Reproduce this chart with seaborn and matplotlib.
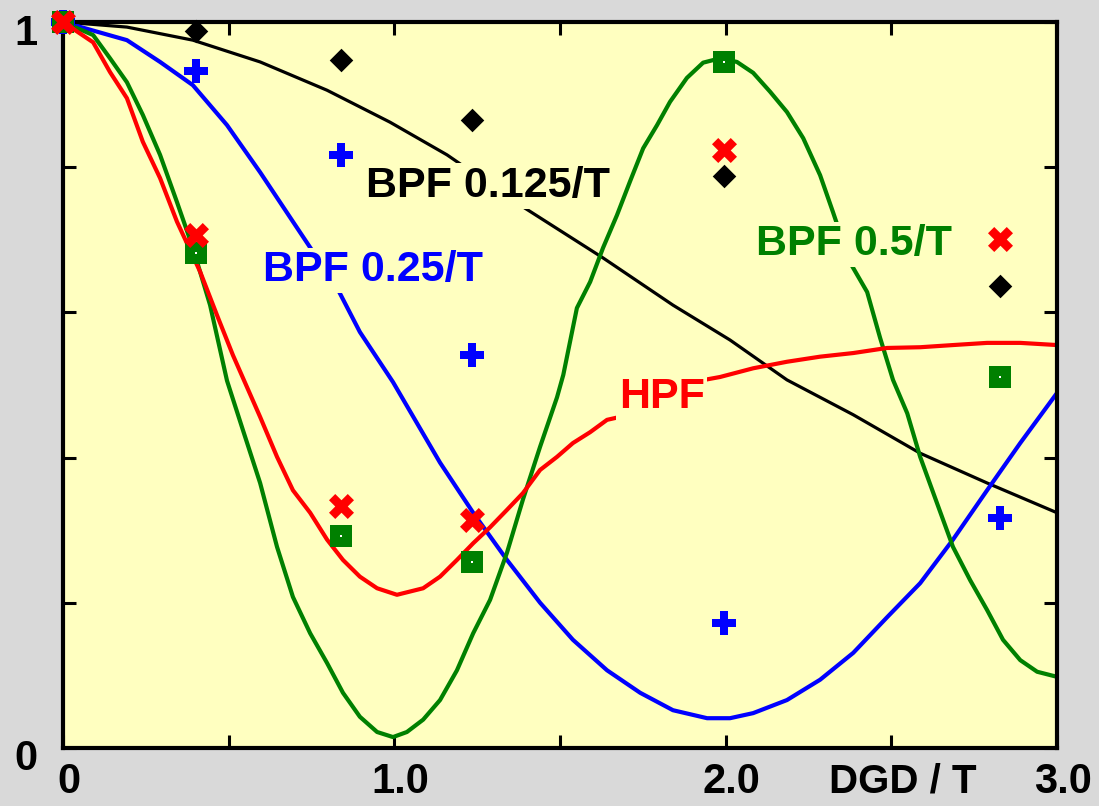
import numpy as np
import pandas as pd
import seaborn as sns
import matplotlib
matplotlib.use("Agg")
import matplotlib.pyplot as plt
from matplotlib.transforms import ScaledTranslation

# ---------------- data ----------------
bpf0125_x = [0, 0.193, 0.392, 0.595, 0.797, 0.987, 1.159, 1.379, 1.630, 1.841,
             2.013, 2.185, 2.385, 2.587, 2.789, 3.0]
bpf0125_y = [1.0, 0.993, 0.975, 0.945, 0.906, 0.862, 0.817, 0.748, 0.675, 0.610,
             0.562, 0.507, 0.459, 0.406, 0.365, 0.324]

bpf025_x = [0, 0.193, 0.293, 0.392, 0.495, 0.595, 0.694, 0.827, 0.896, 0.996,
            1.138, 1.238, 1.340, 1.440, 1.539, 1.642, 1.742, 1.841, 1.944, 2.013,
            2.083, 2.185, 2.285, 2.385, 2.487, 2.587, 2.686, 2.789, 2.889, 3.0]
bpf025_y = [1.0, 0.975, 0.945, 0.913, 0.858, 0.793, 0.725, 0.634, 0.573, 0.504,
            0.393, 0.324, 0.259, 0.200, 0.149, 0.107, 0.076, 0.052, 0.041, 0.041,
            0.048, 0.066, 0.094, 0.131, 0.180, 0.227, 0.287, 0.355, 0.420, 0.489]

hpf_x = [0, 0.091, 0.142, 0.193, 0.241, 0.293, 0.344, 0.414, 0.465, 0.513,
         0.595, 0.646, 0.694, 0.746, 0.797, 0.845, 0.896, 0.948, 1.008, 1.087,
         1.138, 1.189, 1.238, 1.289, 1.340, 1.388, 1.440, 1.491, 1.539, 1.591,
         1.642, 1.681, 1.800, 1.923, 1.983, 2.083, 2.185, 2.285, 2.385, 2.487,
         2.587, 2.686, 2.789, 2.889, 3.0]
hpf_y = [1.0, 0.972, 0.931, 0.895, 0.835, 0.785, 0.725, 0.656, 0.596, 0.541,
         0.456, 0.401, 0.355, 0.324, 0.287, 0.259, 0.236, 0.220, 0.211, 0.220,
         0.236, 0.259, 0.282, 0.304, 0.328, 0.351, 0.383, 0.401, 0.420, 0.435,
         0.452, 0.456, 0.486, 0.506, 0.511, 0.523, 0.532, 0.539, 0.544, 0.551,
         0.552, 0.555, 0.558, 0.558, 0.555]

bpf05_x = [0, 0.091, 0.142, 0.193, 0.241, 0.293, 0.344, 0.392, 0.444, 0.495,
           0.543, 0.595, 0.646, 0.694, 0.746, 0.797, 0.845, 0.896, 0.948, 0.996,
           1.038, 1.087, 1.138, 1.189, 1.238, 1.289, 1.340, 1.388, 1.440, 1.491,
           1.510, 1.551, 1.591, 1.630, 1.672, 1.711, 1.751, 1.793, 1.832, 1.883,
           1.932, 1.983, 2.034, 2.083, 2.134, 2.185, 2.234, 2.285, 2.324, 2.375,
           2.427, 2.466, 2.505, 2.548, 2.587, 2.638, 2.686, 2.738, 2.789, 2.837,
           2.889, 2.940, 3.0]
bpf05_y = [1.0, 0.982, 0.950, 0.917, 0.872, 0.817, 0.752, 0.689, 0.610, 0.506,
           0.438, 0.365, 0.277, 0.208, 0.158, 0.117, 0.076, 0.043, 0.022, 0.015,
           0.022, 0.039, 0.066, 0.107, 0.158, 0.204, 0.269, 0.342, 0.415, 0.483,
           0.514, 0.606, 0.642, 0.689, 0.734, 0.780, 0.826, 0.858, 0.890, 0.923,
           0.944, 0.950, 0.945, 0.930, 0.904, 0.876, 0.840, 0.789, 0.738, 0.669,
           0.628, 0.565, 0.507, 0.461, 0.401, 0.337, 0.277, 0.231, 0.190, 0.149,
           0.121, 0.105, 0.098]

# measured points (markers)
meas_x = [0, 0.401, 0.839, 1.235, 1.995, 2.828]
meas_bpf0125 = [1.0, 0.988, 0.948, 0.865, 0.788, 0.636]
meas_bpf025 = [1.0, 0.932, 0.817, 0.541, 0.172, 0.317]
meas_hpf = [1.0, 0.707, 0.333, 0.314, 0.824, 0.701]
meas_bpf05 = [1.0, 0.682, 0.292, 0.256, 0.945, 0.511]

x_ticks = [0, 0.5, 1.0, 1.5, 2.0, 2.5, 3.0]
x_ticklabels = ["0", "", "1.0", "", "2.0", "", "3.0"]
y_ticks = [0, 0.2, 0.4, 0.6, 0.8, 1.0]
y_ticklabels = ["0", "", "", "", "", "1"]

# ---------------- style ----------------
sns.set_theme(style="ticks")
plt.rcParams['font.family'] = ['Liberation Sans', 'DejaVu Sans']
plt.rcParams['font.weight'] = 'bold'

BG = "#d9d9d9"
FACE = "#ffffc0"
BLUE = "#0000ff"
RED = "#ff0000"
GREEN = "#008000"
BLACK = "#000000"

fig = plt.figure(figsize=(10.99, 8.06), dpi=100, facecolor=BG)
ax = fig.add_axes([0.0573, 0.072, 0.9045, 0.9007])
ax.set_facecolor(FACE)

def line(xs, ys, color, lw):
    df = pd.DataFrame({"x": xs, "y": ys})
    sns.lineplot(data=df, x="x", y="y", ax=ax, color=color, linewidth=lw,
                 sort=False, estimator=None, zorder=2)

line(bpf0125_x, bpf0125_y, BLACK, 2.3)
line(bpf025_x, bpf025_y, BLUE, 3.0)
line(bpf05_x, bpf05_y, GREEN, 3.0)
line(hpf_x, hpf_y, RED, 3.0)

def pts(ys, marker, color, size, z):
    df = pd.DataFrame({"x": meas_x, "y": ys})
    sns.scatterplot(data=df, x="x", y="y", ax=ax, marker=marker, color=color,
                    s=size, linewidth=0, zorder=z, clip_on=False)

pts(meas_bpf0125, "D", BLACK, 12.0 ** 2, 5)
pts(meas_bpf025, "P", BLUE, 17.0 ** 2, 5)
pts(meas_bpf05, "s", GREEN, 15.5 ** 2, 6)
pts(meas_bpf05, "s", "white", 1.8 ** 2, 7)
pts(meas_hpf, "X", RED, 18.0 ** 2, 8)

# curve labels
lab_kw = dict(fontsize=31, fontweight="bold", ha="center", va="center", zorder=4,
              bbox=dict(facecolor=FACE, edgecolor="none", pad=2))
ax.text(1.283, 0.774, "BPF 0.125/T", color=BLACK, **lab_kw)
ax.text(0.936, 0.658, "BPF 0.25/T", color=BLUE, **lab_kw)
ax.text(2.388, 0.694, "BPF 0.5/T", color=GREEN, **lab_kw)
ax.text(1.807, 0.483, "HPF", color=RED, **lab_kw)

# axes
ax.set_xlim(0, 3)
ax.set_ylim(0, 1)
ax.set_xticks(x_ticks)
ax.set_xticklabels(x_ticklabels)
ax.set_yticks(y_ticks)
ax.set_yticklabels(y_ticklabels)
ax.set_xlabel("")
ax.set_ylabel("")
for sp in ax.spines.values():
    sp.set_visible(True)
    sp.set_linewidth(3.0)
    sp.set_color(BLACK)
ax.tick_params(axis="both", which="both", direction="in", length=9.5, width=2.2,
               color=BLACK, top=True, right=True, labelsize=30, labelcolor=BLACK)
ax.tick_params(axis="x", pad=10)
ax.tick_params(axis="y", pad=18)
for lab in ax.get_xticklabels():
    lab.set_fontweight("bold")
    lab.set_transform(lab.get_transform() + ScaledTranslation(6 / 100, 0, fig.dpi_scale_trans))
for lab in ax.get_yticklabels():
    lab.set_fontweight("bold")
    lab.set_transform(lab.get_transform() + ScaledTranslation(0, -7 / 100, fig.dpi_scale_trans))

ax.text(0.845, -0.046, "DGD / T", transform=ax.transAxes, fontsize=29,
        fontweight="bold", ha="center", va="center", color=BLACK, clip_on=False)

fig.savefig("out.png", dpi=100, facecolor=BG)
